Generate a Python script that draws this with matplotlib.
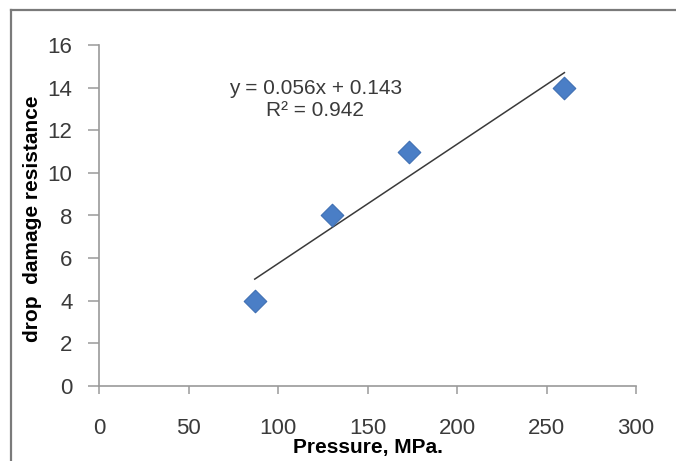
import matplotlib
matplotlib.use("Agg")
import matplotlib.pyplot as plt
from matplotlib.lines import Line2D
import numpy as np

plt.rcParams['font.family'] = ['Liberation Sans Narrow', 'Liberation Sans', 'DejaVu Sans']

# Data
pressure = [87, 130, 173, 260]
resistance = [4, 8, 11, 14]
slope = 0.056
intercept = 0.143
r2 = 0.942
xticks = [0, 50, 100, 150, 200, 250, 300]
yticks = [0, 2, 4, 6, 8, 10, 12, 14, 16]

fig = plt.figure(figsize=(6.76, 4.61), dpi=100)
ax = fig.add_axes([99/676, 1-386/461, (636-99)/676, (386-45)/461])

ax.scatter(pressure, resistance, marker='D', s=11.5**2, color='#4A7EC6',
           edgecolors='#3F6FB3', linewidths=0.8, zorder=3)

fit_x = np.array([min(pressure), max(pressure)])
ax.plot(fit_x, slope*fit_x + intercept, color='#3a3a3a', lw=1.1, zorder=2)

ax.set_xlim(0, 300)
ax.set_ylim(0, 16)
ax.set_xticks(xticks)
ax.set_yticks(yticks)
ax.set_xticklabels([str(v) for v in xticks])
ax.set_yticklabels([str(v) for v in yticks])

for s in ['top', 'right']:
    ax.spines[s].set_visible(False)
for s in ['left', 'bottom']:
    ax.spines[s].set_color('#9a9a9a')
    ax.spines[s].set_linewidth(1.2)

ax.tick_params(axis='x', direction='out', length=6, width=1.1, color='#9a9a9a',
               pad=17, labelsize=16, labelcolor='#3a3a3a')
ax.tick_params(axis='y', direction='out', length=8, width=1.1, color='#9a9a9a',
               pad=11, labelsize=16, labelcolor='#3a3a3a')

ax.set_xlabel('Pressure, MPa.', fontsize=15, fontweight='bold', labelpad=0)
ax.xaxis.set_label_coords(0.5, -0.152)
ax.set_ylabel('drop  damage resistance', fontsize=15, fontweight='bold')
ax.yaxis.set_label_coords(-0.106, 0.49)

ax.text(0.403, 0.84, 'y = 0.056x + 0.143\nR² = 0.942', transform=ax.transAxes,
        ha='center', va='center', fontsize=15, color='#3a3a3a', linespacing=1.25)

# figure border
fig.add_artist(Line2D([11/676, 11/676], [0, 1-10/461], transform=fig.transFigure,
                      color='#7a7a7a', lw=1.6))
fig.add_artist(Line2D([11/676, 1], [1-10/461, 1-10/461], transform=fig.transFigure,
                      color='#7a7a7a', lw=1.6))

fig.savefig('out.png', dpi=100)
